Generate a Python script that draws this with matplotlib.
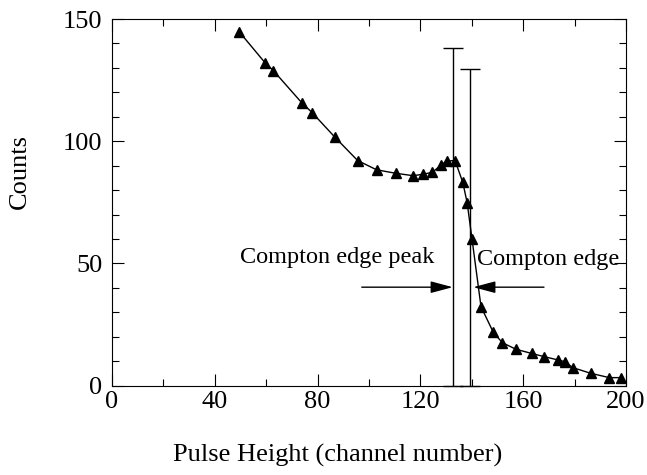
import matplotlib.pyplot as plt
from matplotlib.ticker import MultipleLocator

plt.rcParams['font.family'] = ['Liberation Serif', 'DejaVu Serif']

# pulse height spectrum
channel = [49.5, 59.5, 62.8, 73.8, 77.9, 86.8, 95.6, 103.0, 110.4, 117.2,
           121.1, 124.7, 128.0, 130.2, 133.5, 136.5, 138.2, 140.1, 143.6, 148.4,
           151.9, 157.2, 163.3, 168.1, 173.7, 176.3, 179.3, 186.2, 193.5, 197.9]
counts = [144.8, 132.2, 128.9, 115.8, 111.7, 101.6, 92.1, 88.3, 86.9, 85.9,
          86.5, 87.3, 90.2, 91.9, 92.1, 83.2, 74.9, 60.0, 32.3, 21.8,
          17.6, 14.9, 13.2, 11.9, 10.5, 9.8, 7.4, 5.1, 3.3, 3.3]

# the two marker bars (from 0 up to the top value)
bar_x = [132.6, 139.3]
bar_top = [138.3, 129.5]

labels = ["Compton edge peak", "Compton edge"]
label_xy = [(87.8, 52.5), (169.6, 51.5)]
arrow_from = [(97.2, 40.3), (168.1, 40.3)]
arrow_to = [(132.6, 40.3), (140.6, 40.3)]

fig = plt.figure(figsize=(6.47, 4.75), dpi=100)
ax = fig.add_axes([0.173, 0.188, 0.7945, 0.772])

ax.plot(channel, counts, color='black', lw=1.0, marker='^', markersize=6.5,
        clip_on=False)

for bx, bt in zip(bar_x, bar_top):
    ax.errorbar([bx], [bt / 2], yerr=[bt / 2], fmt='none', ecolor='black',
                elinewidth=1.0, capsize=7, capthick=1.0, clip_on=False)

for txt, (tx, ty) in zip(labels, label_xy):
    ax.text(tx, ty, txt, fontsize=17.5, ha='center', va='center')

for p0, p1 in zip(arrow_from, arrow_to):
    ax.annotate('', xy=p1, xytext=p0,
                arrowprops=dict(arrowstyle='-|>,head_length=1.35,head_width=0.36',
                                mutation_scale=10, color='black', lw=1.0,
                                shrinkA=0, shrinkB=0))

ax.set_xlim(0, 200)
ax.set_ylim(0, 150)
ax.xaxis.set_major_locator(MultipleLocator(40))
ax.xaxis.set_minor_locator(MultipleLocator(20))
ax.yaxis.set_major_locator(MultipleLocator(50))
ax.yaxis.set_minor_locator(MultipleLocator(10))
ax.tick_params(which='both', direction='in', top=True, right=True, width=0.8,
               labelsize=19)
ax.tick_params(which='major', length=8.5)
ax.tick_params(which='minor', length=5)
ax.tick_params(axis='x', pad=4)
ax.tick_params(axis='y', pad=7)
for s in ax.spines.values():
    s.set_linewidth(0.8)

fig.text(19.5 / 647, 1 - 171.7 / 475, 'Counts', rotation=90, fontsize=19,
         ha='center', va='center')
fig.text(338 / 647, 1 - 455 / 475, 'Pulse Height (channel number)', fontsize=19,
         ha='center', va='center')

fig.savefig('out.png', dpi=100)
